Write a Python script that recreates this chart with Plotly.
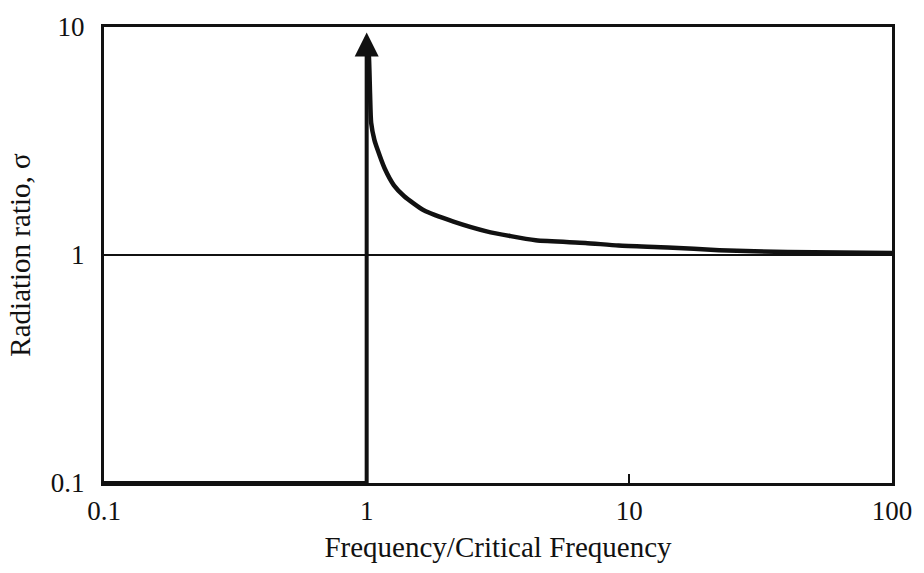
import plotly.graph_objects as go

# Data
below_freq = [0.1, 1.0]            # sigma ~ 0 below critical frequency (drawn on lower axis)
below_sigma = [0.1, 0.1]
shaft_freq = [1.0, 1.0]            # vertical jump at critical frequency
shaft_sigma = [0.1, 9.0]
tip_freq = [1.0]
tip_sigma = [9.45]
curve_freq = [1.01, 1.02, 1.03, 1.04, 1.07, 1.10, 1.17, 1.27, 1.39, 1.65, 2.14, 2.86, 4.4, 6.8, 9.1, 14, 22, 40, 100]
curve_sigma = [8.2, 7.4, 5.1, 3.8, 3.2, 2.9, 2.4, 2.02, 1.81, 1.57, 1.40, 1.27, 1.16, 1.13, 1.10, 1.08, 1.05, 1.03, 1.02]

x_ticks = [0.1, 1, 10, 100]
x_labels = ["0.1", "1", "10", "100"]
y_ticks = [0.1, 1, 10]
y_labels = ["0.1", "1", "10"]

ink = "#111111"
font = "Liberation Serif"

fig = go.Figure()
fig.add_trace(go.Scatter(x=below_freq, y=below_sigma, mode="lines",
                         line=dict(color=ink, width=4), cliponaxis=False, hoverinfo="skip"))
fig.add_trace(go.Scatter(x=shaft_freq, y=shaft_sigma, mode="lines",
                         line=dict(color=ink, width=4), cliponaxis=False, hoverinfo="skip"))
fig.add_trace(go.Scatter(x=curve_freq, y=curve_sigma, mode="lines",
                         line=dict(color=ink, width=4.5, shape="spline", smoothing=0.6),
                         cliponaxis=False, hoverinfo="skip"))
fig.add_trace(go.Scatter(x=tip_freq, y=tip_sigma, mode="markers",
                         marker=dict(symbol="arrow-up", size=24, color=ink,
                                     line=dict(width=0)),
                         cliponaxis=False, hoverinfo="skip"))

fig.update_layout(
    width=924, height=573,
    margin=dict(l=104, r=24, t=18, b=90),
    paper_bgcolor="white", plot_bgcolor="white",
    showlegend=False,
    font=dict(family=font, size=27, color=ink),
    xaxis=dict(
        type="log", range=[-1, 2],
        tickvals=x_ticks, ticktext=x_labels,
        ticks="inside", ticklen=9, tickwidth=2, tickcolor=ink,
        ticklabelstandoff=2,
        showgrid=False, zeroline=False,
        showline=True, linewidth=3, linecolor=ink, mirror=True,
        title=dict(text="Frequency/Critical Frequency", standoff=12,
                   font=dict(family=font, size=29, color=ink)),
        tickfont=dict(family=font, size=27, color=ink),
    ),
    yaxis=dict(
        type="log", range=[-1, 1],
        tickvals=y_ticks, ticktext=y_labels,
        ticks="", ticklabelstandoff=11,
        showgrid=True, gridcolor=ink, gridwidth=2,
        zeroline=False,
        showline=True, linewidth=3, linecolor=ink, mirror=True,
        title=dict(text="Radiation ratio, σ", standoff=12,
                   font=dict(family=font, size=29, color=ink)),
        tickfont=dict(family=font, size=27, color=ink),
    ),
)

fig.write_html("out.html")
